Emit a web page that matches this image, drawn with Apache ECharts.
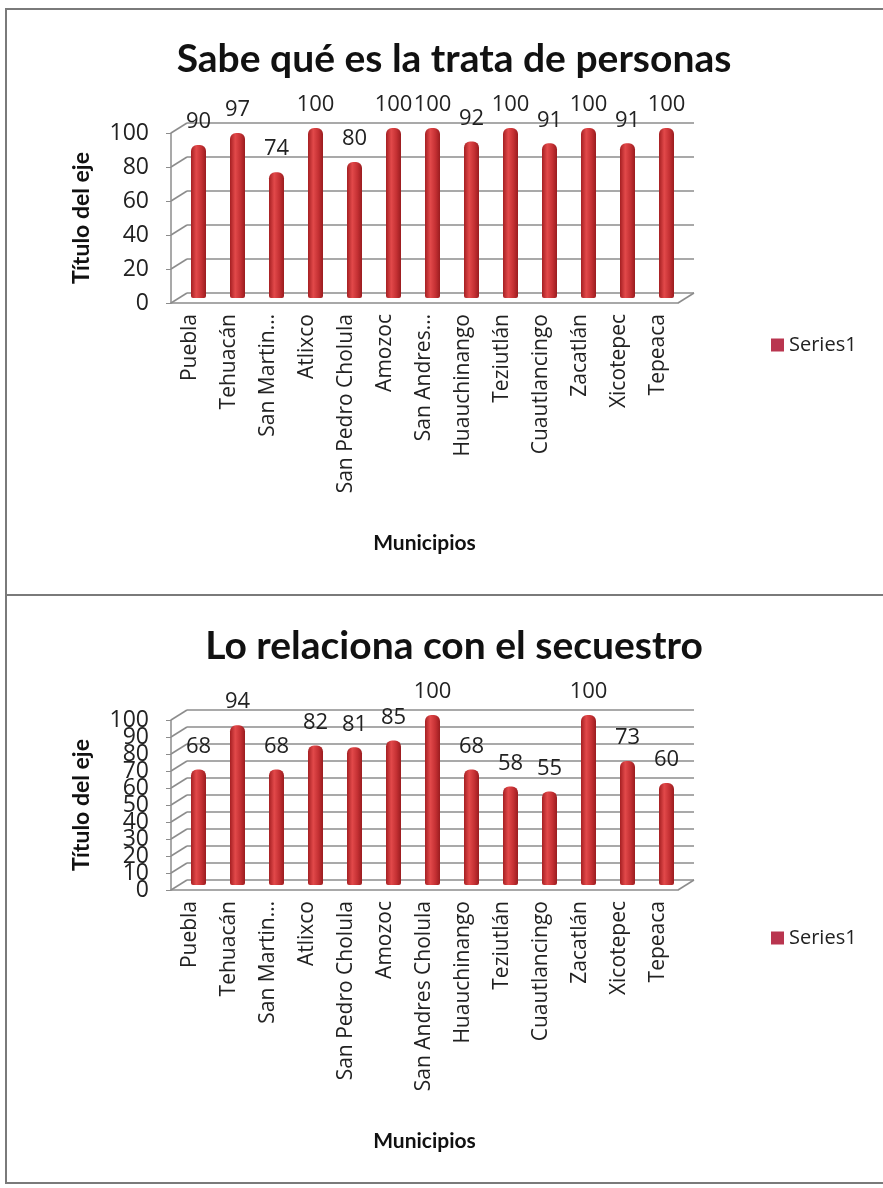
<!DOCTYPE html>
<html>
<head>
<meta charset="utf-8">
<script src="https://cdn.jsdelivr.net/npm/echarts@6/dist/echarts.min.js"></script>
<style>
  html, body { margin: 0; padding: 0; background: #fff; }
  #chart { width: 883px; height: 1188px; }
</style>
</head>
<body>
<div id="chart"></div>
<script>
// data
const topTitle = 'Sabe qué es la trata de personas'
const bottomTitle = 'Lo relaciona con el secuestro'
const topCategories = ['Puebla', 'Tehuacán', 'San Martin…', 'Atlixco', 'San Pedro Cholula', 'Amozoc',
  'San Andres…', 'Huauchinango', 'Teziutlán', 'Cuautlancingo', 'Zacatlán', 'Xicotepec', 'Tepeaca']
const bottomCategories = ['Puebla', 'Tehuacán', 'San Martin…', 'Atlixco', 'San Pedro Cholula', 'Amozoc',
  'San Andres Cholula', 'Huauchinango', 'Teziutlán', 'Cuautlancingo', 'Zacatlán', 'Xicotepec', 'Tepeaca']
const topValues = [90, 97, 74, 100, 80, 100, 100, 92, 100, 91, 100, 91, 100]
const bottomValues = [68, 94, 68, 82, 81, 85, 100, 68, 58, 55, 100, 73, 60]
const topTicks = [0, 20, 40, 60, 80, 100]
const bottomTicks = [0, 10, 20, 30, 40, 50, 60, 70, 80, 90, 100]

const TITLE_FONT = 'Lato'
const FONT = 'Open Sans'
const DX = 8  // fake depth
const DY = 5

let chart = echarts.init(document.getElementById('chart'))

let barColor = new echarts.graphic.LinearGradient(0, 0, 1, 0, [
  { offset: 0, color: '#a51f22' },
  { offset: 0.35, color: '#e2494a' },
  { offset: 0.7, color: '#c43033' },
  { offset: 1, color: '#9a1c1f' }
])

let grids = []
let xAxes = []
let yAxes = []
let series = []

// one 3d-looking panel = back wall grid, bar grid, front axis grid
function panel (top, categories, values, ticks, nameGap) {
  let base = grids.length
  let left = 179
  let width = 507
  let height = 170
  let interval = ticks[1] - ticks[0]
  grids.push({ left: left + DX, top: top - DY, width: width, height: height })
  grids.push({ left: left, top: top, width: width, height: height })
  grids.push({ left: left - DX, top: top + DY, width: width, height: height })

  // back wall
  xAxes.push({ gridIndex: base, type: 'category', data: categories, show: false })
  yAxes.push({
    gridIndex: base, type: 'value', min: 0, max: 100, interval: interval,
    axisLine: { show: false }, axisTick: { show: false }, axisLabel: { show: false },
    splitLine: { lineStyle: { color: '#8c8c8c', width: 1.5 } }
  })
  // bars
  xAxes.push({ gridIndex: base + 1, type: 'category', data: categories, show: false })
  yAxes.push({ gridIndex: base + 1, type: 'value', min: 0, max: 100, interval: interval, show: false })
  // front axes
  xAxes.push({
    gridIndex: base + 2, type: 'category', data: categories,
    axisLine: { lineStyle: { color: '#8c8c8c', width: 1.5 } },
    axisTick: { show: false },
    axisLabel: { rotate: 90, margin: 11, fontSize: 21, color: '#222', fontFamily: FONT, interval: 0 },
    name: 'Municipios', nameLocation: 'middle', nameGap: nameGap,
    nameTextStyle: { fontSize: 21, fontWeight: 'bold', color: '#111', fontFamily: TITLE_FONT }
  })
  yAxes.push({
    gridIndex: base + 2, type: 'value', min: 0, max: 100, interval: interval,
    axisLine: { show: true, lineStyle: { color: '#8c8c8c', width: 1.5 } },
    axisTick: { show: true, length: 5, lineStyle: { color: '#8c8c8c' } },
    // labels are drawn by the custom series below so that crowded ones still show
    axisLabel: { show: false },
    splitLine: { show: false },
    name: 'Título del eje', nameLocation: 'middle', nameGap: 78,
    nameTextStyle: { fontSize: 23, fontWeight: 'bold', color: '#111', fontFamily: TITLE_FONT }
  })

  series.push({
    name: 'Series1', type: 'bar', xAxisIndex: base + 1, yAxisIndex: base + 1,
    data: values, barWidth: 15,
    itemStyle: { color: barColor, borderRadius: [6, 6, 2, 2] },
    label: { show: true, position: 'top', distance: 12, fontSize: 22, color: '#222', fontFamily: FONT }
  })

  // tick labels, side wall and floor edges
  series.push({
    type: 'custom', xAxisIndex: base + 2, yAxisIndex: base + 2, silent: true, z: 1,
    data: ticks.map(v => [0, v]),
    encode: { x: 0, y: 1 },
    renderItem: function (params, api) {
      let cs = params.coordSys
      let v = api.value(1)
      let y = api.coord([0, v])[1]
      let style = { stroke: '#8c8c8c', lineWidth: 1.5 }
      let children = [
        {
          type: 'line', shape: { x1: cs.x, y1: y, x2: cs.x + 2 * DX, y2: y - 2 * DY }, style: style
        },
        {
          type: 'text', x: cs.x - 22, y: y,
          style: {
            text: String(v), align: 'right', verticalAlign: 'middle',
            fontSize: 23, fontFamily: FONT, fill: '#222'
          }
        }
      ]
      if (v === 0) {
        children.push({
          type: 'line',
          shape: { x1: cs.x + cs.width, y1: y, x2: cs.x + cs.width + 2 * DX, y2: y - 2 * DY },
          style: style
        })
      }
      return { type: 'group', children: children }
    }
  })
}

panel(128, topCategories, topValues, topTicks, 230)
panel(715, bottomCategories, bottomValues, bottomTicks, 241)

let option = {
  backgroundColor: '#fff',
  animation: false,
  title: [
    {
      text: topTitle, left: 449, top: 35, textAlign: 'center',
      textStyle: { fontSize: 39, fontWeight: 'bold', color: '#111', fontFamily: TITLE_FONT }
    },
    {
      text: bottomTitle, left: 449, top: 622, textAlign: 'center',
      textStyle: { fontSize: 39, fontWeight: 'bold', color: '#111', fontFamily: TITLE_FONT }
    }
  ],
  legend: [
    {
      data: ['Series1'], left: 766, top: 330, icon: 'rect', itemWidth: 13, itemHeight: 13, itemGap: 6,
      itemStyle: { color: '#b9354f' },
      textStyle: { fontSize: 20, color: '#222', fontFamily: FONT }
    },
    {
      data: ['Series1'], left: 766, top: 923, icon: 'rect', itemWidth: 13, itemHeight: 13, itemGap: 6,
      itemStyle: { color: '#b9354f' },
      textStyle: { fontSize: 20, color: '#222', fontFamily: FONT }
    }
  ],
  graphic: [
    { type: 'rect', shape: { x: 6, y: 9, width: 900, height: 586 }, style: { fill: 'none', stroke: '#7a7a7a', lineWidth: 2 } },
    { type: 'rect', shape: { x: 6, y: 595, width: 900, height: 588 }, style: { fill: 'none', stroke: '#7a7a7a', lineWidth: 2 } }
  ],
  grid: grids,
  xAxis: xAxes,
  yAxis: yAxes,
  series: series
}

chart.setOption(option)
</script>
</body>
</html>
